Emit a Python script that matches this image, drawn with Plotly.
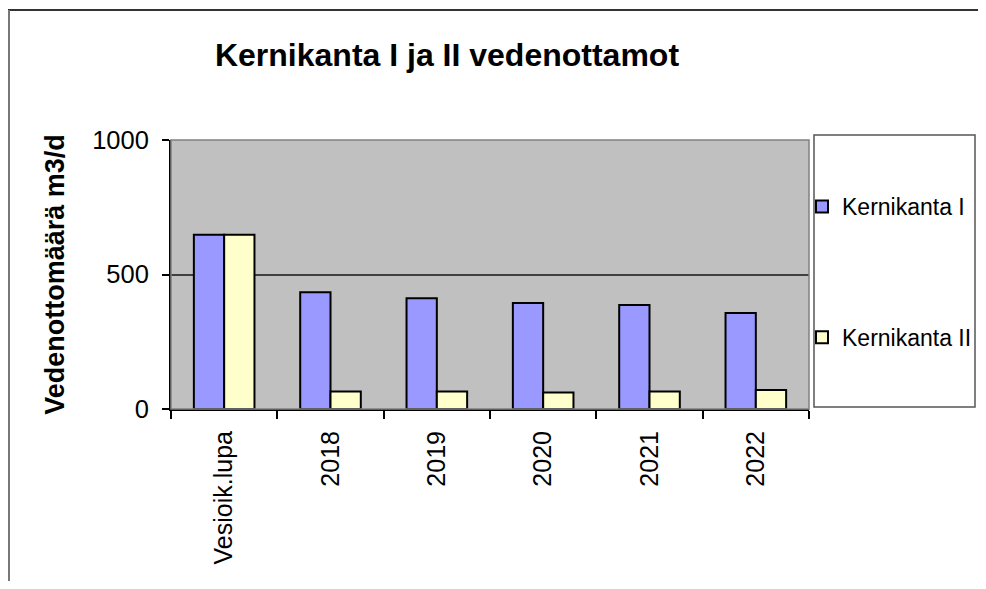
import plotly.graph_objects as go

categories = ["Vesioik.lupa", "2018", "2019", "2020", "2021", "2022"]
kernikanta_1 = [648, 434, 412, 394, 387, 357]
kernikanta_2 = [648, 65, 65, 61, 65, 71]
series_names = ["Kernikanta I", "Kernikanta II"]
y_ticks = [0, 500, 1000]

FONT = "Liberation Sans, Arial, sans-serif"

# page body margin offset (screen px -> figure px)
OFF = 8
W, H = 986 - OFF, 589 - 2 * OFF
# plot area in screen coords
SX0, SX1, SY0, SY1 = 171, 809, 140, 409
L = SX0 - OFF
R = W - (SX1 - OFF)
T = SY0 - OFF
B = H - (SY1 - OFF)
pw = W - L - R
ph = H - T - B


def px_x(sx):
    return (sx - SX0) / pw


def px_y(sy):
    return (SY1 - sy) / ph


def cx(sx):
    return (sx - OFF) / W


def cy(sy):
    return 1 - (sy - OFF) / H


fig = go.Figure()
fig.add_trace(go.Bar(x=categories, y=kernikanta_1, name=series_names[0],
                     legendgroup="a",
                     marker=dict(color="#9999FF", line=dict(color="#000000", width=2))))
fig.add_trace(go.Bar(x=categories, y=kernikanta_2, name=series_names[1],
                     legendgroup="b",
                     marker=dict(color="#FFFFCC", line=dict(color="#000000", width=2))))

shapes = [
    dict(type="rect", xref="paper", yref="paper", x0=0, x1=1, y0=0, y1=1,
         line=dict(color="#808080", width=1.5), layer="above"),
    dict(type="rect", xref="paper", yref="paper", x0=px_x(814), x1=px_x(975),
         y0=px_y(407), y1=px_y(135), line=dict(color="#555555", width=1.5),
         fillcolor="white", layer="below"),
    dict(type="line", xref="paper", yref="paper", x0=px_x(8), x1=px_x(990),
         y0=px_y(10), y1=px_y(10), line=dict(color="#333333", width=2)),
    dict(type="line", xref="paper", yref="paper", x0=px_x(9), x1=px_x(9),
         y0=px_y(10), y1=px_y(600), line=dict(color="#777777", width=2)),
]

fig.update_layout(
    width=W, height=H,
    margin=dict(l=L, r=R, t=T, b=B, autoexpand=False),
    paper_bgcolor="white",
    plot_bgcolor="#C0C0C0",
    barmode="group",
    bargap=0.43,
    bargroupgap=0,
    font=dict(family=FONT, color="#000000", size=22),
    title=dict(text="<b>Kernikanta I ja II vedenottamot</b>",
               font=dict(family=FONT, size=32, color="#000000"),
               xref="container", yref="container",
               x=cx(447), xanchor="center", y=cy(55), yanchor="middle"),
    shapes=shapes,
    legend=dict(xref="container", yref="container",
                x=cx(802), xanchor="left", y=cy(185), yanchor="top",
                bgcolor="rgba(0,0,0,0)", borderwidth=0,
                font=dict(family=FONT, size=23, color="#000000"),
                traceorder="grouped", tracegroupgap=98,
                itemwidth=30),
    showlegend=True,
)

fig.update_xaxes(
    type="category", tickangle=-90, automargin=False,
    tickfont=dict(family=FONT, size=25, color="#000000"),
    showline=True, linecolor="#000000", linewidth=2,
    ticks="outside", tickson="boundaries", ticklen=8, tickcolor="#000000", tickwidth=1.5,
    ticklabelstandoff=10,
    showgrid=False, zeroline=False,
)
fig.update_yaxes(
    range=[0, 1000], tickvals=y_ticks, automargin=False,
    tickfont=dict(family=FONT, size=25.5, color="#000000"),
    ticklabelstandoff=8,
    title=dict(text="<b>Vedenottomäärä m3/d</b>",
               font=dict(family=FONT, size=27, color="#000000"), standoff=20),
    showline=True, linecolor="#000000", linewidth=2,
    ticks="outside", ticklen=7, tickcolor="#000000", tickwidth=1.5,
    showgrid=True, gridcolor="#404040", gridwidth=1.5,
    zeroline=False,
)

fig.write_html("out.html")
